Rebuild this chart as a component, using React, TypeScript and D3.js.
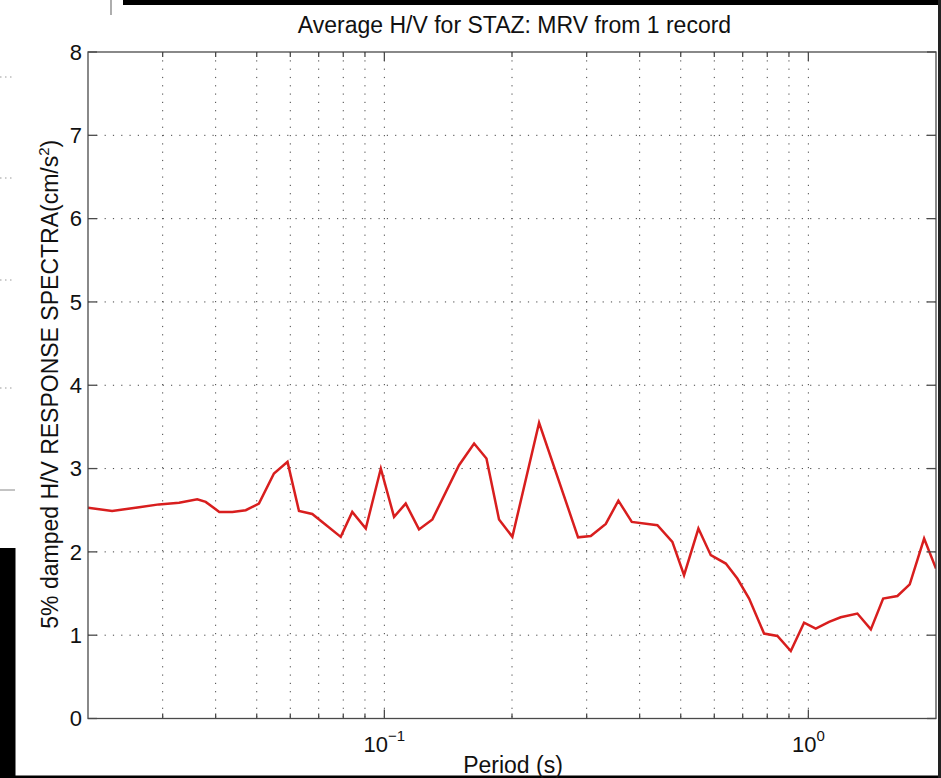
import React from "react";
import * as d3 from "d3";

const periods = [0.02, 0.0228, 0.0264, 0.0294, 0.0328, 0.0362, 0.0379, 0.0408, 0.0438, 0.0471, 0.0506, 0.0549, 0.0591, 0.0629, 0.0676, 0.0721, 0.0789, 0.084, 0.0904, 0.0981, 0.1054, 0.1123, 0.1207, 0.1298, 0.15, 0.1628, 0.1741, 0.1864, 0.2004, 0.2317, 0.2863, 0.3068, 0.3328, 0.3564, 0.3833, 0.4405, 0.4778, 0.5091, 0.5504, 0.5887, 0.6387, 0.68, 0.7248, 0.7862, 0.8453, 0.909, 0.977, 1.041, 1.119, 1.192, 1.305, 1.404, 1.501, 1.622, 1.734, 1.875, 2.0];
const hvValues = [2.53, 2.49, 2.535, 2.57, 2.59, 2.63, 2.6, 2.48, 2.48, 2.5, 2.58, 2.94, 3.08, 2.49, 2.455, 2.34, 2.18, 2.48, 2.28, 3.0, 2.42, 2.58, 2.27, 2.39, 3.04, 3.3, 3.12, 2.39, 2.18, 3.55, 2.175, 2.19, 2.335, 2.615, 2.36, 2.32, 2.12, 1.72, 2.28, 1.96, 1.86, 1.68, 1.44, 1.02, 0.99, 0.81, 1.15, 1.08, 1.16, 1.215, 1.26, 1.07, 1.44, 1.47, 1.61, 2.16, 1.8];
const yTicks = [0, 1, 2, 3, 4, 5, 6, 7, 8];
const xMajorTicks = [0.1, 1];
const xMajorExponents = ["\u22121", "0"];

const title = "Average H/V for STAZ: MRV from 1 record";
const xLabel = "Period (s)";
const yLabelMain = "5% damped H/V RESPONSE SPECTRA(cm/s";

const W = 941;
const H = 778;
const left = 88;
const right = 936;
const top = 52;
const bottom = 718.5;
const FONT = "'Liberation Sans', Arial, Helvetica, sans-serif";
const FS = 22;
const FL = 23;

export default function App() {
  const x = d3.scaleLog().domain([0.02, 2]).range([left, right]);
  const y = d3.scaleLinear().domain([0, 8]).range([bottom, top]);
  const minor = x.ticks().filter((t) => x(t) > left + 1 && x(t) < right - 1);
  const line = d3
    .line<number>()
    .x((_, i) => x(periods[i]))
    .y((d) => y(d));
  const gridColor = "#444";
  const axisColor = "#4a4a4a";

  return (
    <svg
      width={W}
      height={H}
      style={{ position: "absolute", left: 0, top: 0, background: "#fff" }}
      fontFamily={FONT}
    >
      <defs>
        <clipPath id="plotclip">
          <rect x={left} y={top} width={right - left} height={bottom - top} />
        </clipPath>
      </defs>
      {/* screenshot artifacts */}
      <rect x={123} y={0} width={W - 123} height={5} fill="#000" />
      <rect x={0} y={548} width={15.5} height={H - 548} fill="#000" />
      <rect x={0} y={775.5} width={W} height={2.5} fill="#000" />
      <rect x={938} y={0} width={3} height={H} fill="#222" />
      <line x1={111} x2={111} y1={0} y2={15} stroke="#777" strokeWidth={1.2} />
      {[77, 178, 280, 388].map((yy) => (
        <line key={yy} x1={0} x2={15} y1={yy} y2={yy} stroke="#999" strokeDasharray="1.5 3.5" />
      ))}
      <line x1={0} x2={15} y1={490} y2={490} stroke="#888" strokeWidth={1} />

      {/* grid */}
      <g>
        {minor.map((t) => (
          <line
            key={"gx" + t}
            x1={x(t)}
            x2={x(t)}
            y1={top}
            y2={bottom}
            stroke={gridColor}
            strokeWidth={1}
            strokeDasharray="1.2 7.1"
          />
        ))}
        {yTicks
          .filter((t) => t > 0 && t < 8)
          .map((t) => (
            <line
              key={"gy" + t}
              x1={left}
              x2={right}
              y1={y(t)}
              y2={y(t)}
              stroke={gridColor}
              strokeWidth={1}
              strokeDasharray="1.2 7.1"
            />
          ))}
      </g>

      {/* data line */}
      <path
        d={line(hvValues) || ""}
        fill="none"
        stroke="#d81e1e"
        strokeWidth={2.5}
        strokeLinejoin="miter"
        clipPath="url(#plotclip)"
      />

      {/* axes box */}
      <rect
        x={left}
        y={top}
        width={right - left}
        height={bottom - top}
        fill="none"
        stroke={axisColor}
        strokeWidth={1.3}
      />
      {/* y ticks */}
      {yTicks.map((t) => (
        <g key={"yt" + t}>
          <line x1={left} x2={left + 9} y1={y(t)} y2={y(t)} stroke={axisColor} strokeWidth={1.3} />
          <line x1={right} x2={right - 9} y1={y(t)} y2={y(t)} stroke={axisColor} strokeWidth={1.3} />
          <text x={left - 6} y={y(t) + 7.8} textAnchor="end" fontSize={FS} fill="#111">
            {t}
          </text>
        </g>
      ))}
      {/* x ticks */}
      {minor.map((t) => {
        const major = xMajorTicks.some((m) => Math.abs(m - t) < 1e-9);
        const len = major ? 9 : 5;
        return (
          <g key={"xt" + t}>
            <line x1={x(t)} x2={x(t)} y1={bottom} y2={bottom - len} stroke={axisColor} strokeWidth={1.3} />
            <line x1={x(t)} x2={x(t)} y1={top} y2={top + len} stroke={axisColor} strokeWidth={1.3} />
          </g>
        );
      })}
      {xMajorTicks.map((t, i) => (
        <text key={"xl" + t} x={x(t)} y={751.5} textAnchor="middle" fontSize={FS} fill="#111">
          10
          <tspan dy={-11} fontSize={15}>
            {xMajorExponents[i]}
          </tspan>
        </text>
      ))}

      {/* labels */}
      <text x={514.5} y={33} textAnchor="middle" fontSize={FL} fill="#111">
        {title}
      </text>
      <text x={513} y={772.5} textAnchor="middle" fontSize={FL} fill="#111">
        {xLabel}
      </text>
      <text
        transform={`translate(58,${(top + bottom) / 2 - 1}) rotate(-90)`}
        textAnchor="middle"
        fontSize={FL}
        fill="#111"
      >
        {yLabelMain}
        <tspan dy={-9} fontSize={15}>
          2
        </tspan>
        <tspan dy={9}>)</tspan>
      </text>
    </svg>
  );
}
